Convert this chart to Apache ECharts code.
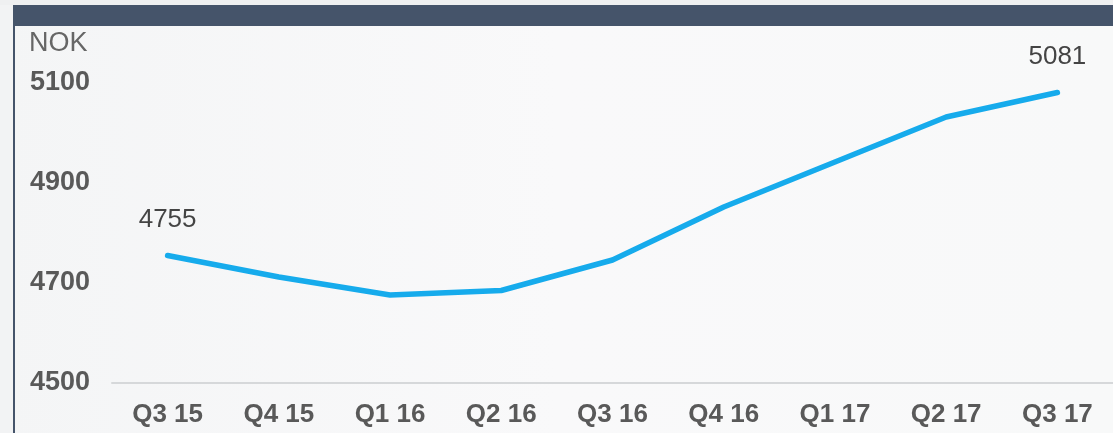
<!DOCTYPE html>
<html>
<head>
<meta charset="utf-8">
<script src="https://cdn.jsdelivr.net/npm/echarts@6/dist/echarts.min.js"></script>
<style>
html,body{margin:0;padding:0;background:#f1f2f3;}
#c{width:1113px;height:433px;}
</style>
</head>
<body>
<div id="c"></div>
<script>
const categories = ['Q3 15','Q4 15','Q1 16','Q2 16','Q3 16','Q4 16','Q1 17','Q2 17','Q3 17'];
const values = [4755, 4712, 4676, 4685, 4746, 4852, 4942, 5032, 5081];
const labelledIndexes = [0, 8];
const unitLabel = 'NOK';
const yMin = 4500, yMax = 5100, yStep = 200;

const chart = echarts.init(document.getElementById('c'), null, {renderer: 'canvas'});
const font = '"Liberation Sans", Arial, sans-serif';
chart.setOption({
  backgroundColor: {
    type: 'linear', x: 0, y: 0, x2: 1, y2: 0,
    colorStops: [{offset: 0, color: '#f4f5f6'}, {offset: 0.5, color: '#f9f9fa'}, {offset: 1, color: '#f8f9f9'}]
  },
  animation: false,
  graphic: [
    {type: 'rect', left: 0, top: 0, shape: {width: 1113, height: 5}, style: {fill: '#eff0f1'}, z: 10},
    {type: 'rect', left: 13, top: 5, shape: {width: 1100, height: 21}, style: {fill: '#45546a'}, z: 10},
    {type: 'rect', left: 13, top: 26, shape: {width: 2, height: 407}, style: {fill: '#45546a'}, z: 10},
    {type: 'rect', left: 0, top: 5, shape: {width: 13, height: 428}, style: {fill: '#f2f3f4'}, z: 10}
  ],
  title: {
    text: unitLabel, left: 29, top: 30, padding: 0,
    textStyle: {fontFamily: font, fontSize: 27, fontWeight: 'normal', color: '#666'}
  },
  grid: {left: 112, width: 1008, top: 83, bottom: 50},
  xAxis: {
    type: 'category', data: categories, boundaryGap: true,
    axisLine: {show: true, lineStyle: {color: '#d6d8da', width: 2}},
    axisTick: {show: false},
    axisLabel: {fontFamily: font, fontSize: 26, fontWeight: 'bold', color: '#595959', margin: 19}
  },
  yAxis: {
    type: 'value', min: yMin, max: yMax, interval: yStep,
    axisLine: {show: false}, axisTick: {show: false}, splitLine: {show: false},
    axisLabel: {fontFamily: font, fontSize: 27, fontWeight: 'bold', color: '#595959', align: 'left', margin: 82,
      formatter: v => String(v)}
  },
  series: [{
    type: 'line',
    data: values,
    symbol: 'circle',
    symbolSize: 3,
    showSymbol: true,
    itemStyle: {color: '#16abec'},
    lineStyle: {color: '#16abec', width: 5.5, cap: 'round', join: 'round'},
    label: {
      show: true, position: 'top', distance: 21, fontFamily: font, fontSize: 26, color: '#444', opacity: 1,
      formatter: p => labelledIndexes.includes(p.dataIndex) ? String(p.value) : ''
    }
  }]
});
</script>
</body>
</html>
